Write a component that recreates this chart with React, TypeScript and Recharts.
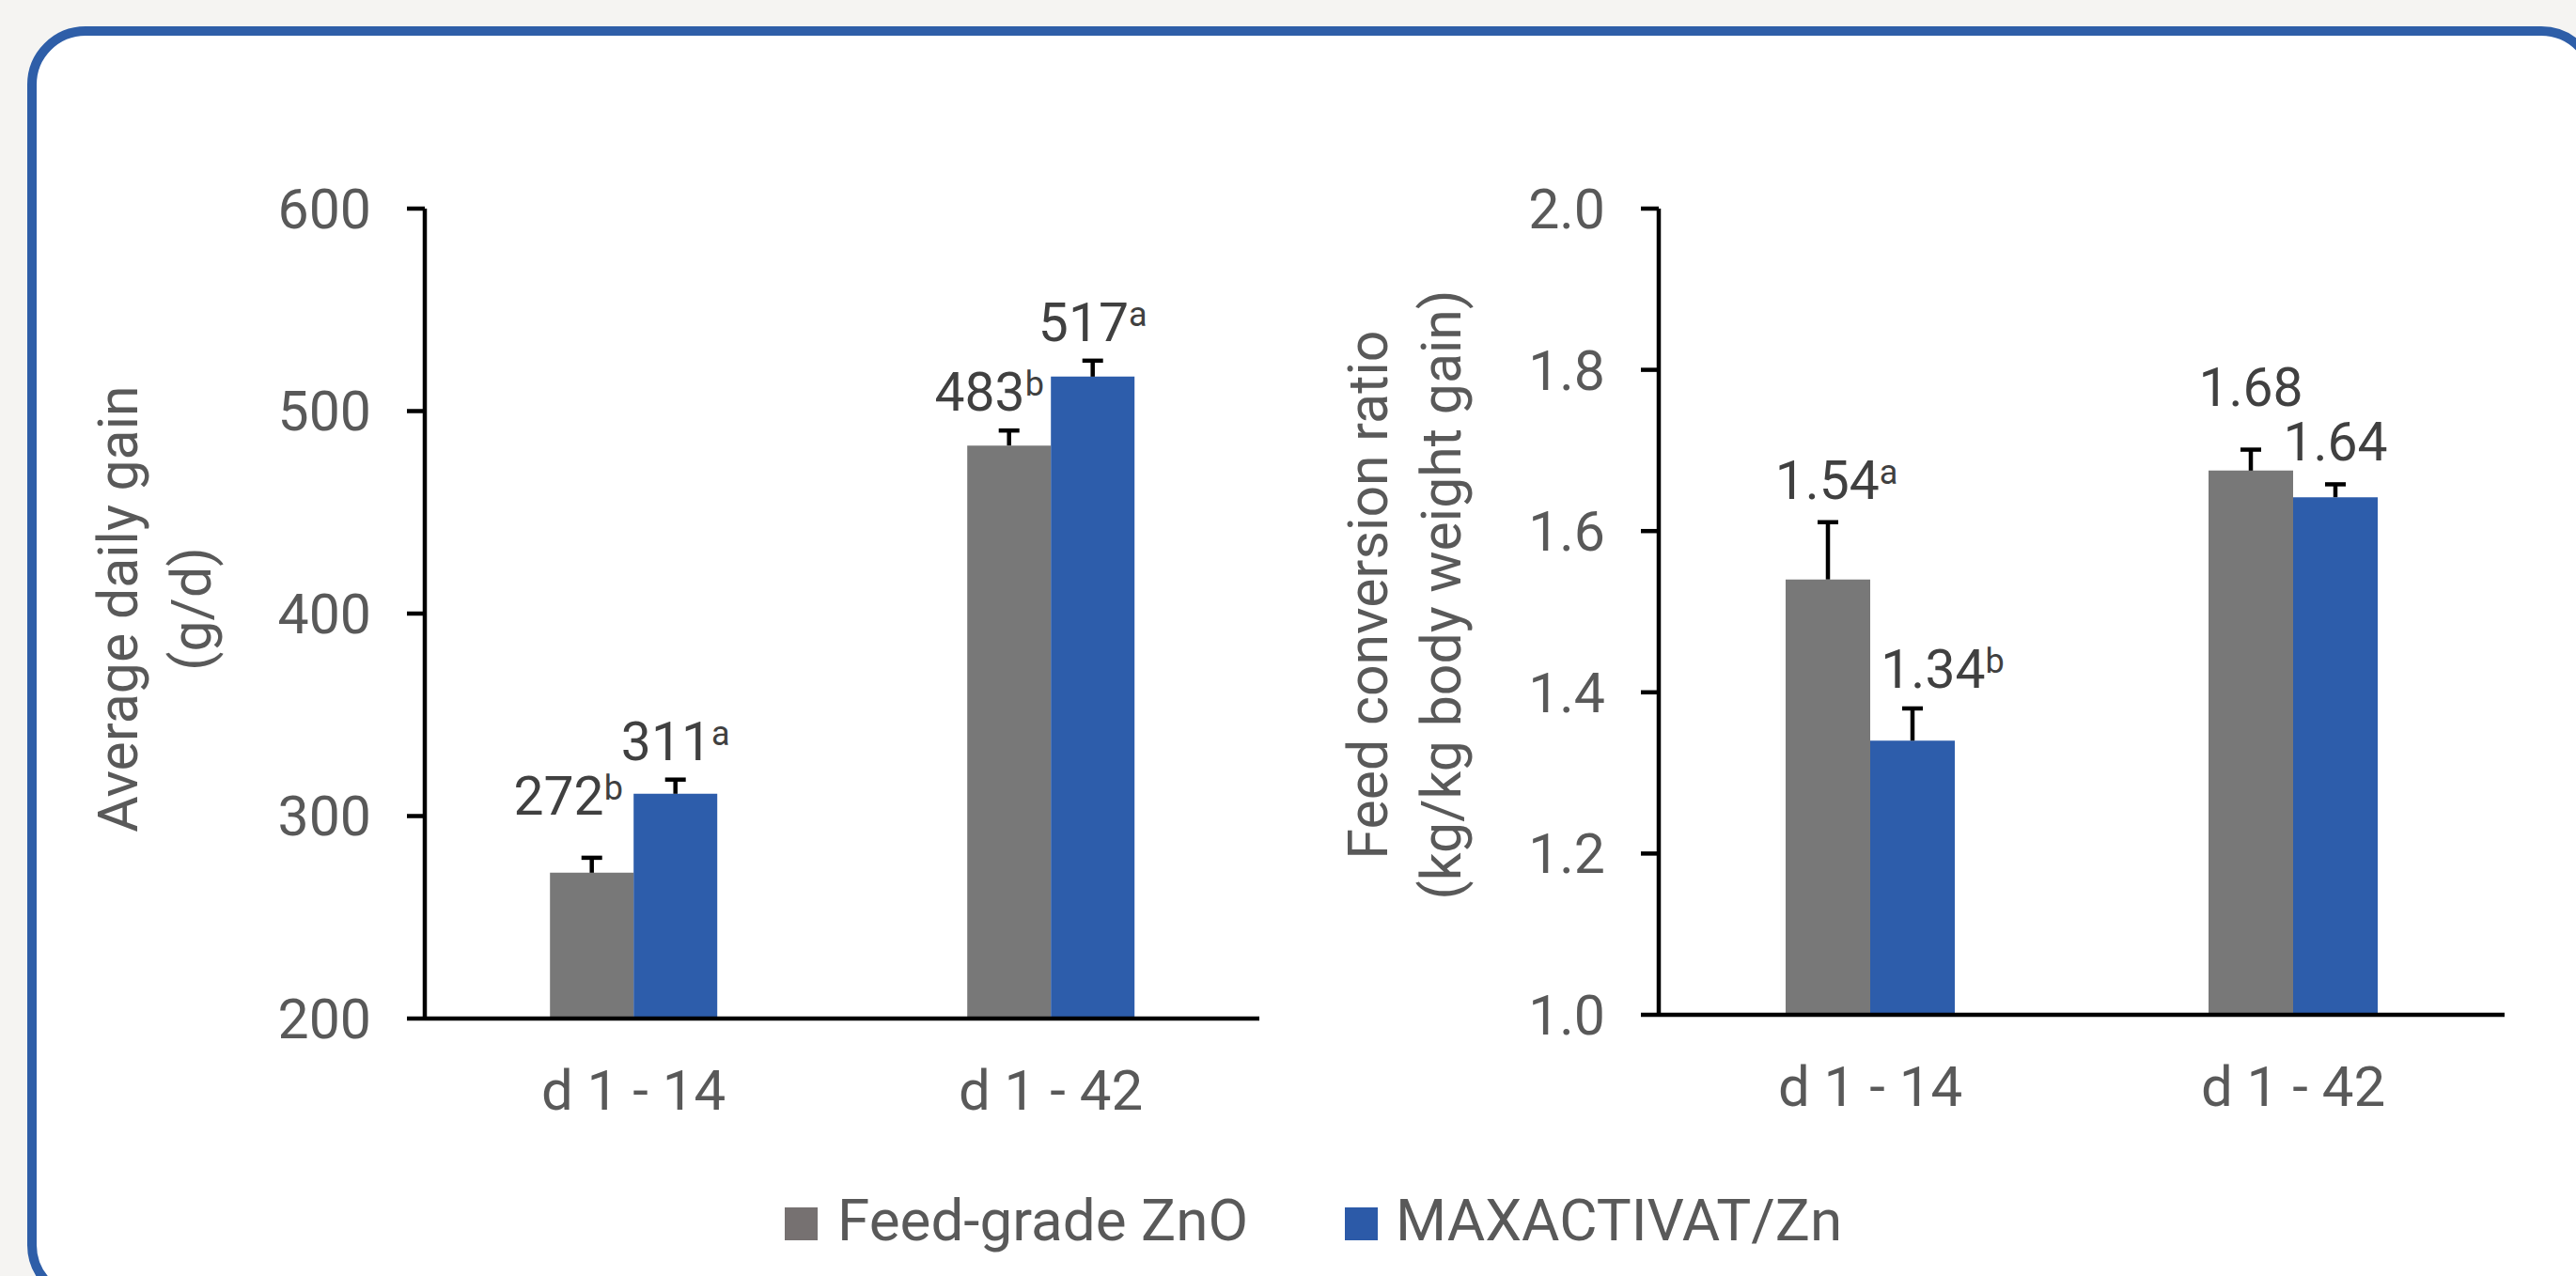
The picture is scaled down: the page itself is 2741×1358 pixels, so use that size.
import React from 'react'
import { BarChart, Bar, XAxis, YAxis, ErrorBar, LabelList, Legend } from 'recharts'

const periods = ['d 1 - 14', 'd 1 - 42']
const seriesNames = ['Feed-grade ZnO', 'MAXACTIVAT/Zn']

// Average daily gain (g/d)
const adgZnO = [272, 483]
const adgMax = [311, 517]
const adgZnOErr = [7.4, 7.4]
const adgMaxErr = [7, 7.9]
const adgZnOSup = ['b', 'b']
const adgMaxSup = ['a', 'a']
const adgTicks = [200, 300, 400, 500, 600]

// Feed conversion ratio (kg/kg)
const fcrZnO = [1.54, 1.675]
const fcrMax = [1.34, 1.642]
const fcrZnOErr = [0.071, 0.026]
const fcrMaxErr = [0.04, 0.016]
const fcrZnOText = ['1.54', '1.68']
const fcrMaxText = ['1.34', '1.64']
const fcrZnOSup = ['a', '']
const fcrMaxSup = ['b', '']
const fcrTicks = [1.0, 1.2, 1.4, 1.6, 1.8, 2.0]

const GRAY = '#787878'
const BLUE = '#2d5dab'
const legendSwatches = ['#767171', '#2c5aa8']
const TXT = '#595959'
const FONT = 'Roboto'

// label offsets from the bar's top centre [dx, dy]
const adgZnOPos = [[-25, -62], [-21, -37]]
const adgMaxPos = [[0, -36], [0, -38]]
const fcrZnOPos = [[9, -86], [0, -69]]
const fcrMaxPos = [[32, -56], [0, -39]]

const adgData = periods.map((p, i) => ({
  period: p,
  zno: adgZnO[i],
  max: adgMax[i],
  znoErr: [0, adgZnOErr[i]],
  maxErr: [0, adgMaxErr[i]]
}))

const fcrData = periods.map((p, i) => ({
  period: p,
  zno: fcrZnO[i],
  max: fcrMax[i],
  znoErr: [0, fcrZnOErr[i]],
  maxErr: [0, fcrMaxErr[i]]
}))

const makeLabel = (texts: string[], sups: string[], pos: number[][]) => (props: any) => {
  const vb = props.viewBox || props
  const x = vb.x ?? props.x
  const y = vb.y ?? props.y
  const w = vb.width ?? props.width
  const i = props.index
  if (x == null || i == null) return null
  return (
    <text
      x={x + w / 2 + pos[i][0]}
      y={y + pos[i][1]}
      textAnchor="middle"
      fontFamily={FONT}
      fontSize={57}
      fill="#404040"
    >
      {texts[i]}
      {sups[i] ? <tspan fontSize={36} dy={-16}>{sups[i]}</tspan> : null}
    </text>
  )
}

const makeTitle = (cx: number, cy: number, lines: string[]) => () => (
  <text
    transform={`rotate(-90, ${cx}, ${cy})`}
    x={cx}
    y={cy}
    textAnchor="middle"
    fontFamily={FONT}
    fontSize={59}
    fill={TXT}
  >
    {lines.map((l, i) => (
      <tspan key={i} x={cx} dy={i === 0 ? 0 : 78}>{l}</tspan>
    ))}
  </text>
)

const renderLegend = (props: any) => {
  const payload = props.payload || []
  return (
    <div style={{ display: 'flex', alignItems: 'center', fontFamily: FONT, fontSize: 62, color: TXT, lineHeight: '73px', whiteSpace: 'nowrap' }}>
      {payload.map((e: any, i: number) => (
        <div key={i} style={{ display: 'flex', alignItems: 'center', marginRight: i === 0 ? 103 : 0 }}>
          <span style={{ display: 'inline-block', width: 35, height: 35, background: legendSwatches[i], marginRight: i === 0 ? 21 : 19, position: 'relative', top: 4 }} />
          <span>{e.value}</span>
        </div>
      ))}
    </div>
  )
}

const axisStroke = { stroke: '#000', strokeWidth: 4.5 }
const tickStyle = { fontSize: 59, fill: TXT, fontFamily: FONT }
const xTickStyle = { fontSize: 60, fill: TXT, fontFamily: FONT }

export default function App() {
  return (
    <div style={{ position: 'absolute', left: 0, top: 0, width: 2741, height: 1358, overflow: 'hidden', background: '#f5f4f2', fontFamily: FONT }}>
      <style>{'.recharts-errorBar line:nth-of-type(3){display:none}'}</style>
      <div style={{ position: 'absolute', left: 29, top: 28, width: 2737, height: 1359, boxSizing: 'border-box', border: '10.5px solid #2e5ea8', borderRadius: 62, background: '#fff' }} />

      {/* Average daily gain */}
      <div style={{ position: 'absolute', left: 0, top: 0 }}>
        <BarChart width={1400} height={1358} data={adgData} margin={{ top: 222, right: 60, bottom: 0, left: 0 }} barCategoryGap="30%" barGap={0}>
          <XAxis dataKey="period" height={274} axisLine={axisStroke} tickLine={false} tickSize={0} tickMargin={54} tick={xTickStyle} />
          <YAxis
            width={452}
            domain={[200, 600]}
            ticks={adgTicks}
            interval={0}
            allowDataOverflow
            axisLine={axisStroke}
            tickLine={axisStroke}
            tickSize={19}
            tickMargin={38}
            tick={tickStyle}
            label={{ content: makeTitle(146, 648, ['Average daily gain', '(g/d)']) }}
          />
          <Legend layout="horizontal" verticalAlign="middle" align="center" content={renderLegend} wrapperStyle={{ left: 835, top: 1262, width: 1400 }} />
          <Bar dataKey="zno" name={seriesNames[0]} fill={GRAY} isAnimationActive={false}>
            <ErrorBar dataKey="znoErr" direction="y" width={11} stroke="#000" strokeWidth={4.5} isAnimationActive={false} />
            <LabelList content={makeLabel(adgZnO.map(String), adgZnOSup, adgZnOPos)} />
          </Bar>
          <Bar dataKey="max" name={seriesNames[1]} fill={BLUE} isAnimationActive={false}>
            <ErrorBar dataKey="maxErr" direction="y" width={11} stroke="#000" strokeWidth={4.5} isAnimationActive={false} />
            <LabelList content={makeLabel(adgMax.map(String), adgMaxSup, adgMaxPos)} />
          </Bar>
        </BarChart>
      </div>

      {/* Feed conversion ratio */}
      <div style={{ position: 'absolute', left: 1400, top: 0 }}>
        <BarChart width={1341} height={1358} data={fcrData} margin={{ top: 222, right: 76, bottom: 0, left: 0 }} barCategoryGap="30%" barGap={0}>
          <XAxis dataKey="period" height={278} axisLine={axisStroke} tickLine={false} tickSize={0} tickMargin={54} tick={xTickStyle} />
          <YAxis
            width={365}
            domain={[1, 2]}
            ticks={fcrTicks}
            interval={0}
            allowDataOverflow
            tickFormatter={(v: number) => v.toFixed(1)}
            axisLine={axisStroke}
            tickLine={axisStroke}
            tickSize={19}
            tickMargin={38}
            tick={tickStyle}
            label={{ content: makeTitle(76, 633, ['Feed conversion ratio', '(kg/kg body weight gain)']) }}
          />
          <Bar dataKey="zno" name={seriesNames[0]} fill={GRAY} isAnimationActive={false}>
            <ErrorBar dataKey="znoErr" direction="y" width={11} stroke="#000" strokeWidth={4.5} isAnimationActive={false} />
            <LabelList content={makeLabel(fcrZnOText, fcrZnOSup, fcrZnOPos)} />
          </Bar>
          <Bar dataKey="max" name={seriesNames[1]} fill={BLUE} isAnimationActive={false}>
            <ErrorBar dataKey="maxErr" direction="y" width={11} stroke="#000" strokeWidth={4.5} isAnimationActive={false} />
            <LabelList content={makeLabel(fcrMaxText, fcrMaxSup, fcrMaxPos)} />
          </Bar>
        </BarChart>
      </div>
    </div>
  )
}
